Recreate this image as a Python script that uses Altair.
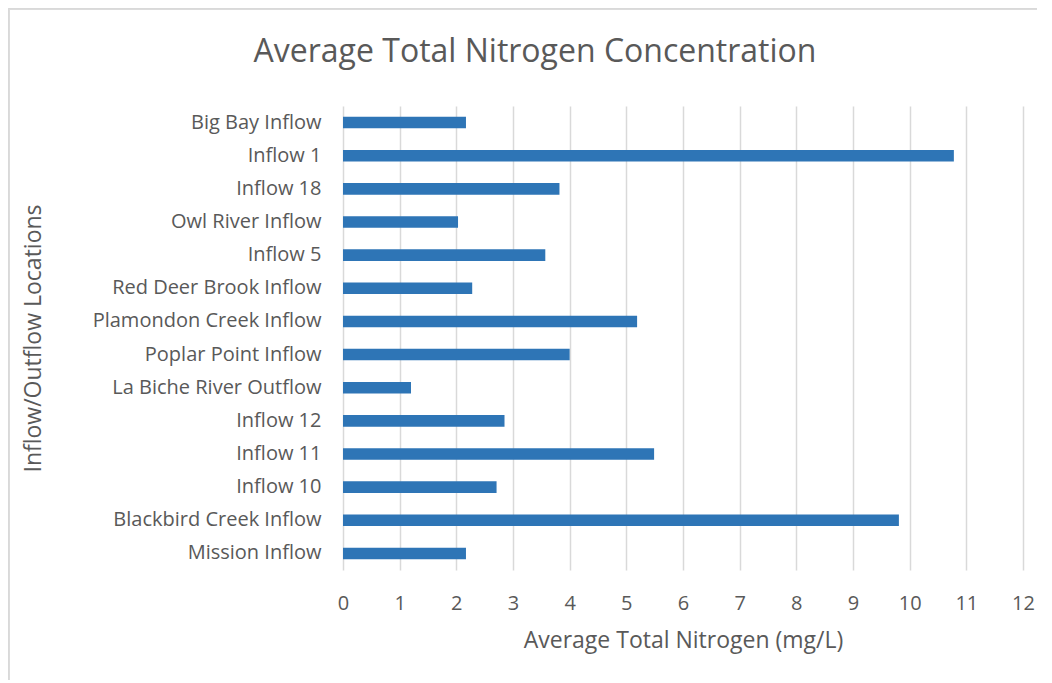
import altair as alt
import pandas as pd

locations = [
    "Big Bay Inflow", "Inflow 1", "Inflow 18", "Owl River Inflow ", "Inflow 5",
    "Red Deer Brook Inflow", "Plamondon Creek Inflow", "Poplar Point Inflow",
    "La Biche River Outflow", "Inflow 12", "Inflow 11", "Inflow 10",
    "Blackbird Creek Inflow", "Mission Inflow",
]
nitrogen = [2.17, 10.78, 3.82, 2.03, 3.57, 2.28, 5.19, 4.0, 1.2, 2.85, 5.49, 2.71, 9.81, 2.17]
x_ticks = list(range(0, 13))
chart_title = ["Average Total Nitrogen Concentration"]

df = pd.DataFrame({"location": locations, "value": nitrogen})
title_df = pd.DataFrame({"t": chart_title})

FONT = "Open Sans"
TXT = "#595959"
W, H = 680, 464

bars = alt.Chart(df).mark_bar(color="#2E75B6").encode(
    x=alt.X("value:Q",
            scale=alt.Scale(domain=[0, 12], nice=False),
            axis=alt.Axis(values=x_ticks, title="Average Total Nitrogen (mg/L)",
                          grid=True, gridColor="#D9D9D9", gridWidth=1.5,
                          domain=False, ticks=False, labelPadding=23,
                          labelFlush=False, labelOverlap=False,
                          labelFontSize=20, labelColor=TXT, labelFont=FONT,
                          titleFontSize=23, titleColor=TXT, titleFont=FONT,
                          titleFontWeight="normal", titleX=340, titleY=70,
                          titleAlign="center", titleBaseline="middle")),
    y=alt.Y("location:N", sort=locations,
            scale=alt.Scale(paddingInner=0.65, paddingOuter=0.325),
            axis=alt.Axis(title="Inflow/Outflow Locations", domain=False, ticks=False,
                          labelPadding=22, labelFontSize=20, labelColor=TXT, labelFont=FONT,
                          labelLimit=400,
                          titleFontSize=23, titleColor=TXT, titleFont=FONT,
                          titleFontWeight="normal", titleX=-310, titleY=232,
                          titleAngle=-90, titleAlign="center", titleBaseline="middle")),
)

title = alt.Chart(title_df).mark_text(
    fontSize=32, font=FONT, color=TXT, align="center", baseline="middle"
).encode(text="t:N", x=alt.value(192), y=alt.value(-54))

top_line = alt.Chart(df).mark_rule(color="#D9D9D9", strokeWidth=1.5).encode(
    x=alt.value(-334.5), x2=alt.value(700), y=alt.value(-97.5)
)
left_line = alt.Chart(df).mark_rule(color="#D9D9D9", strokeWidth=1.5).encode(
    x=alt.value(-334.5), y=alt.value(-97.5), y2=alt.value(580)
)

chart = alt.layer(bars, title, top_line, left_line).properties(
    width=W, height=H,
    autosize=alt.AutoSizeParams(type="none"),
    padding={"left": 335, "top": 98, "right": 14, "bottom": 110},
).configure_view(stroke=None)

chart.save("out.html", embed_options={"renderer": "svg", "actions": False})
